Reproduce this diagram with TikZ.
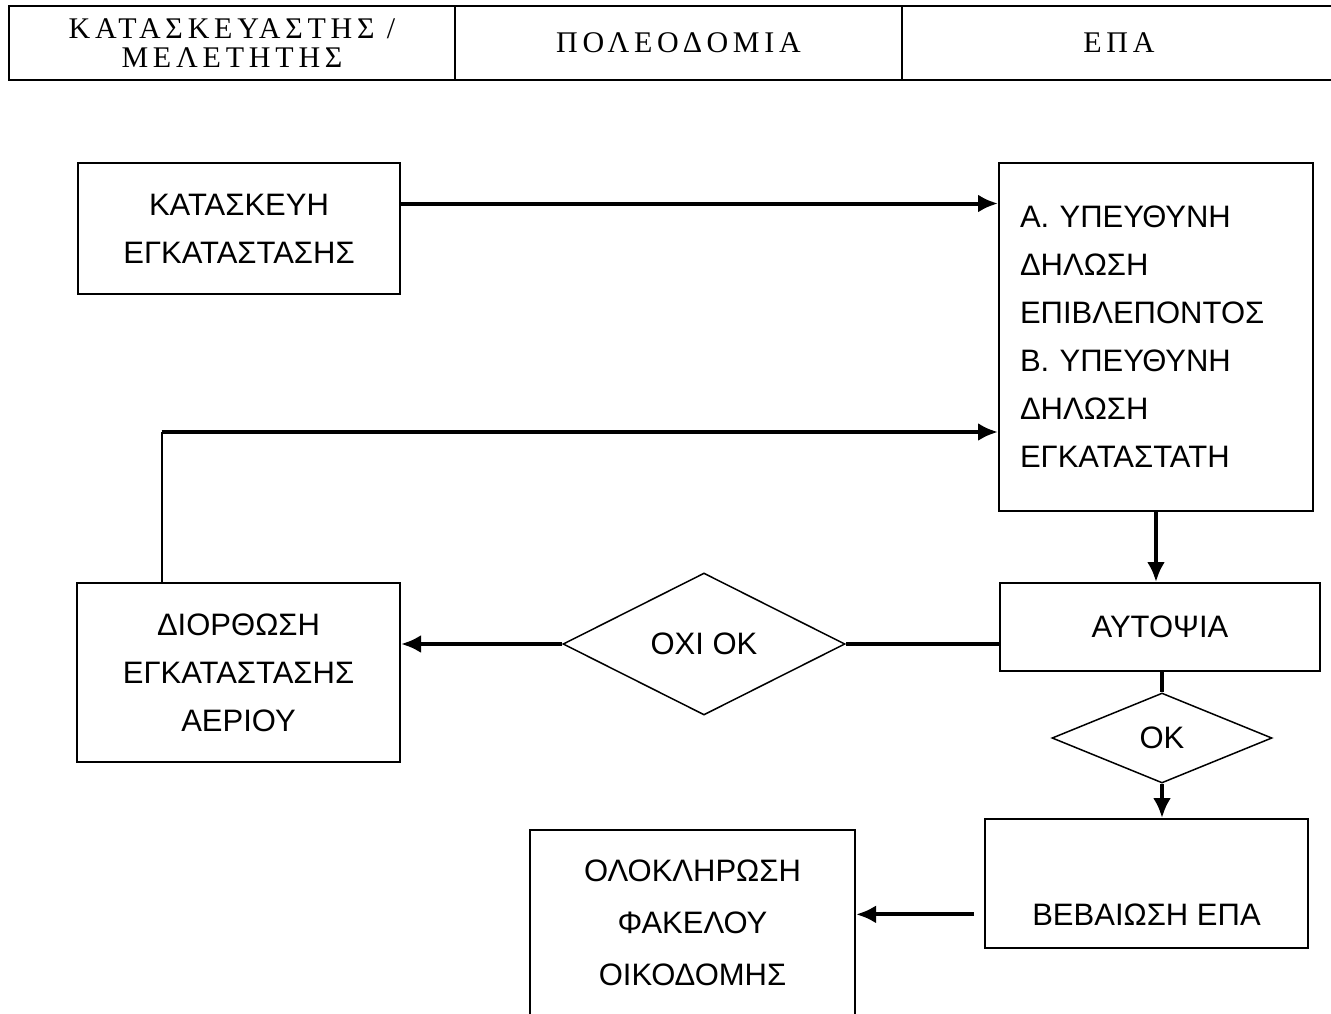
\documentclass[tikz,border=0pt]{standalone}
\usepackage{fontspec}
\setmainfont{Liberation Sans}
\newfontfamily\headfont[LetterSpace=16]{Liberation Serif}
\usetikzlibrary{arrows.meta,calc,shapes.geometric}

\tikzset{
  cell/.style={draw, line width=2pt, inner sep=0pt, minimum height=74pt, align=center, font=\headfont\fontsize{30}{29}\selectfont},
  stage/.style={draw, line width=2pt, inner sep=0pt, align=center, font=\fontsize{31}{48}\selectfont},
  check/.style={draw, diamond, line width=1.5pt, inner sep=0pt, font=\fontsize{31}{36}\selectfont},
  flow/.style={line width=4pt, -{Latex[length=20pt,width=18pt]}},
  link/.style={line width=4pt},
}

\begin{document}
\begin{tikzpicture}[x=1pt,y=-1pt]
    \useasboundingbox (0,0) rectangle (1331,1013);

    % header row
    \node[cell, minimum width=446pt] (hdA) at (232,43) {ΚΑΤΑΣΚΕΥΑΣΤΗΣ /\\ΜΕΛΕΤΗΤΗΣ};
    \node[cell, minimum width=447pt] (hdB) at (678.5,43) {ΠΟΛΕΟΔΟΜΙΑ};
    \node[cell, minimum width=434pt] (hdC) at (1119,43) {ΕΠΑ};

    % stages
    \node[stage, minimum width=322pt, minimum height=131pt] (kat) at (239,228.5) {ΚΑΤΑΣΚΕΥΗ\\ΕΓΚΑΤΑΣΤΑΣΗΣ};
    \node[stage, align=left, text width=272pt, inner xsep=21pt, minimum height=348pt] (dil) at (1156,337) {Α. ΥΠΕΥΘΥΝΗ\\ΔΗΛΩΣΗ\\ΕΠΙΒΛΕΠΟΝΤΟΣ\\Β. ΥΠΕΥΘΥΝΗ\\ΔΗΛΩΣΗ\\ΕΓΚΑΤΑΣΤΑΤΗ};
    \node[stage, minimum width=320pt, minimum height=88pt] (aut) at (1160,627) {ΑΥΤΟΨΙΑ};
    \node[check, minimum width=282pt, minimum height=142pt] (oxi) at (704,644) {ΟΧΙ ΟΚ};
    \node[stage, minimum width=323pt, minimum height=179pt] (dior) at (238.5,672.5) {ΔΙΟΡΘΩΣΗ\\ΕΓΚΑΤΑΣΤΑΣΗΣ\\ΑΕΡΙΟΥ};
    \node[check, minimum width=220pt, minimum height=90pt] (ok) at (1162,738) {ΟΚ};
    \node[stage, minimum width=323pt, text height=106pt, text depth=23pt, anchor=north] (beb) at (1146.5,818) {ΒΕΒΑΙΩΣΗ ΕΠΑ};
    \node[stage, minimum width=325pt, minimum height=185pt, font=\fontsize{31}{52}\selectfont] (olok) at (692.5,922.5) {ΟΛΟΚΛΗΡΩΣΗ\\ΦΑΚΕΛΟΥ\\ΟΙΚΟΔΟΜΗΣ};

    % connectors
    \draw[flow] ([yshift=25pt]kat.east) -- ([yshift=25pt]kat.east -| dil.west);
    \coordinate (ret) at ([yshift=-95pt]dil.west);
    \coordinate (bend) at ([xshift=-77pt]dior.north |- ret);
    \draw[line width=2pt] ([xshift=-77pt]dior.north) -- (bend);
    \draw[flow] (bend) -- (ret);
    \draw[flow] (dil.south) -- (dil.south |- aut.north);
    \draw[link] (oxi.east -| aut.west) -- (oxi.east);
    \draw[flow] (oxi.west) -- (oxi.west -| dior.east);
    \draw[link] (ok.north |- aut.south) -- (ok.north);
    \draw[flow] (ok.south) -- (ok.south |- beb.north);
    \draw[flow, shorten <=10pt] ([yshift=8pt]beb.mid west) -- ([yshift=8pt]beb.mid west -| olok.east);

\end{tikzpicture}
\end{document}
